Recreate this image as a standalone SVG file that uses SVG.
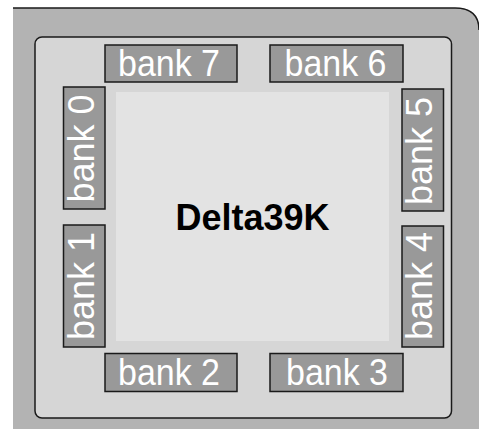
<svg xmlns="http://www.w3.org/2000/svg" width="479" height="429" viewBox="0 0 479 429">
<style>
.bank rect{fill:#999999;stroke:#1a1a1a;stroke-width:1.5}
.bank text{fill:#ffffff;font-family:"Liberation Sans",Arial,sans-serif;font-size:36px;text-anchor:middle}
.title{fill:#000;font-family:"Liberation Sans",Arial,sans-serif;font-size:36px;font-weight:bold;text-anchor:middle}
</style>
<rect width="479" height="429" fill="#ffffff"/>
<g id="package">
<path d="M13,8 H455 Q479,8 479,30 V429 H13 Z" fill="#b3b3b3"/>
<path d="M13,8 H455 Q479,8 479,30" fill="none" stroke="#1a1a1a" stroke-width="1.5"/>
</g>
<g id="die">
<rect x="35" y="37" width="416.5" height="381" rx="7" fill="#d6d6d6" stroke="#1a1a1a" stroke-width="1.5"/>
</g>
<g id="core">
<rect x="116" y="92" width="273" height="249" fill="#e3e3e3"/>
<text class="title" x="252.5" y="230">Delta39K</text>
</g>
<g id="bank7" class="bank"><rect x="105" y="45" width="132" height="37"/><text x="169" y="76" textLength="102" lengthAdjust="spacingAndGlyphs">bank 7</text></g>
<g id="bank6" class="bank"><rect x="270" y="45" width="133" height="37"/><text x="335.5" y="76" textLength="102" lengthAdjust="spacingAndGlyphs">bank 6</text></g>
<g id="bank2" class="bank"><rect x="105" y="353.5" width="132" height="38"/><text x="169" y="385" textLength="102" lengthAdjust="spacingAndGlyphs">bank 2</text></g>
<g id="bank3" class="bank"><rect x="270" y="353.5" width="133" height="38"/><text x="337" y="385" textLength="102" lengthAdjust="spacingAndGlyphs">bank 3</text></g>
<g id="bank0" class="bank"><rect x="63.5" y="87" width="41.5" height="122"/><text transform="translate(94,148.5) rotate(-90)">bank 0</text></g>
<g id="bank1" class="bank"><rect x="63.5" y="225" width="41.5" height="122"/><text transform="translate(94,286) rotate(-90)">bank 1</text></g>
<g id="bank5" class="bank"><rect x="402" y="89" width="41.5" height="122"/><text transform="translate(432,151) rotate(-90)">bank 5</text></g>
<g id="bank4" class="bank"><rect x="402" y="226" width="41.5" height="121"/><text transform="translate(432,286) rotate(-90)">bank 4</text></g>
<g id="connectors"></g>
</svg>
